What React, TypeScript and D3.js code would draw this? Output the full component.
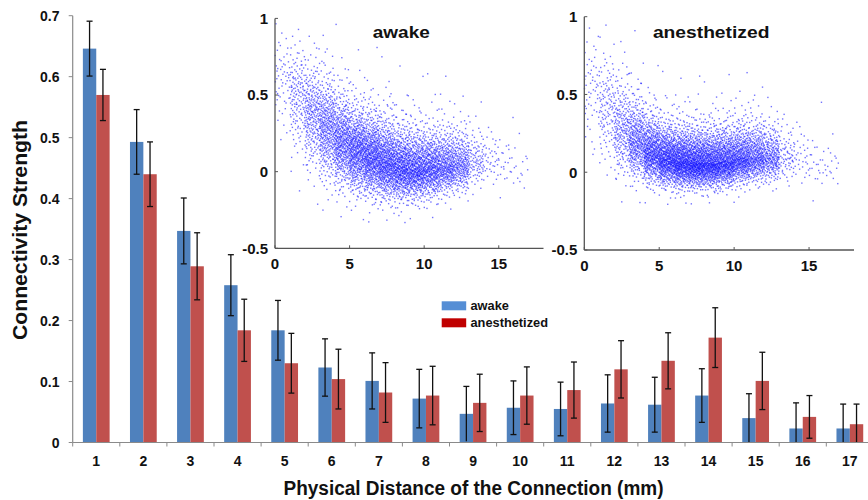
import React from "react";
import * as d3 from "d3";

// ---------- Bar chart data ----------
const categories = ["1","2","3","4","5","6","7","8","9","10","11","12","13","14","15","16","17"];
const awakeMean = [0.646,0.493,0.347,0.258,0.184,0.123,0.101,0.072,0.047,0.057,0.055,0.064,0.062,0.077,0.040,0.023,0.023];
const awakeErr  = [0.045,0.053,0.054,0.050,0.049,0.047,0.046,0.048,0.045,0.044,0.044,0.047,0.045,0.044,0.040,0.042,0.040];
const anesMean  = [0.570,0.440,0.289,0.184,0.130,0.104,0.082,0.077,0.065,0.077,0.086,0.120,0.134,0.172,0.101,0.042,0.030];
const anesErr   = [0.042,0.053,0.055,0.051,0.049,0.049,0.049,0.048,0.047,0.047,0.046,0.047,0.046,0.049,0.047,0.035,0.033];
const yTicks = [0,0.1,0.2,0.3,0.4,0.5,0.6,0.7];
const seriesNames = ["awake","anesthetized"];

// ---------- Inset scatter summaries (per 1 mm distance bin) ----------
const binStart   = [0,1,2,3,4,5,6,7,8,9,10,11,12,13,14,15,16];
const awakeCount = [55,150,260,370,440,500,530,520,490,450,400,330,250,95,38,22,13];
const awakeMed   = [0.62,0.50,0.38,0.29,0.20,0.14,0.10,0.06,0.03,0.02,0.03,0.04,0.05,0.07,0.08,0.06,0.03];
const awakeLo    = [0.17,0.19,0.18,0.17,0.15,0.14,0.13,0.12,0.11,0.10,0.10,0.09,0.09,0.08,0.08,0.09,0.07];
const awakeHi    = [0.13,0.16,0.16,0.16,0.15,0.14,0.14,0.14,0.13,0.13,0.12,0.12,0.11,0.10,0.09,0.09,0.09];
const anesCount  = [55,120,220,350,460,520,560,560,520,480,420,330,240,75,32,22,16];
const anesMed    = [0.55,0.42,0.28,0.20,0.13,0.09,0.07,0.06,0.06,0.07,0.09,0.10,0.10,0.10,0.10,0.05,0.04];
const anesLo     = [0.20,0.18,0.15,0.12,0.10,0.09,0.085,0.08,0.08,0.08,0.08,0.08,0.08,0.08,0.08,0.08,0.06];
const anesHi     = [0.16,0.17,0.16,0.14,0.12,0.11,0.11,0.11,0.11,0.11,0.11,0.11,0.10,0.10,0.10,0.09,0.08];
const insetXTicks = [0,5,10,15];
const insetYTicks = [-0.5,0,0.5,1];

const FONT = "'Liberation Sans', Arial, Helvetica, sans-serif";

function halton(i: number, b: number) {
  let f = 1, r = 0;
  while (i > 0) { f /= b; r += f * (i % b); i = Math.floor(i / b); }
  return r;
}
function invNorm(p: number) {
  const a=[-39.69683028665376,220.9460984245205,-275.9285104469687,138.3577518672690,-30.66479806614716,2.506628277459239];
  const b=[-54.47609879822406,161.5858368580409,-155.6989798598866,66.80131188771972,-13.28068155288572];
  const c=[-0.007784894002430293,-0.3223964580411365,-2.400758277161838,-2.549671200931245,4.374664141464968,2.938163982698783];
  const d=[0.007784695709041462,0.3224671290700398,2.445134137142996,3.754408661907416];
  const pl = 0.02425;
  if (p < pl) { const q=Math.sqrt(-2*Math.log(p)); return (((((c[0]*q+c[1])*q+c[2])*q+c[3])*q+c[4])*q+c[5])/((((d[0]*q+d[1])*q+d[2])*q+d[3])*q+1); }
  if (p > 1-pl) { const q=Math.sqrt(-2*Math.log(1-p)); return -(((((c[0]*q+c[1])*q+c[2])*q+c[3])*q+c[4])*q+c[5])/((((d[0]*q+d[1])*q+d[2])*q+d[3])*q+1); }
  const q=p-0.5, r=q*q;
  return (((((a[0]*r+a[1])*r+a[2])*r+a[3])*r+a[4])*r+a[5])*q/(((((b[0]*r+b[1])*r+b[2])*r+b[3])*r+b[4])*r+1);
}

function buildCloud(count: number[], med: number[], lo: number[], hi: number[], seed: number) {
  const pts: [number, number][] = [];
  binStart.forEach((x0, k) => {
    const off = seed + k * 997;
    for (let i = 0; i < count[k]; i++) {
      const u = Math.min(0.9995, Math.max(0.0005, halton(i + 1 + off, 2)));
      const xf = halton(i + 1 + off, 3);
      const z = invNorm(u);
      const y = z < 0 ? med[k] + lo[k] * z : med[k] + hi[k] * z * (1 + 0.05 * z * z);
      pts.push([x0 + xf, y]);
    }
  });
  return pts;
}

function Inset({ left, right, top, bottom, title, titleLen, pts }: any) {
  const x = d3.scaleLinear().domain([0, 18]).range([left, right]);
  const y = d3.scaleLinear().domain([-0.5, 1]).range([bottom, top]);
  const vis = pts.filter((p: [number, number]) => p[1] >= -0.5 && p[1] <= 1 && p[0] <= 18);
  return (
    <g>
      <g>
        {vis.map((p: [number, number], i: number) => (
          <rect key={i} x={x(p[0]) - 0.7} y={y(p[1]) - 0.7} width={1.4} height={1.4} fill="#0000ff" fillOpacity={0.55} />
        ))}
      </g>
      <line x1={left} x2={left} y1={top} y2={bottom} stroke="#555" strokeWidth={1.3} />
      <line x1={left} x2={right} y1={bottom} y2={bottom} stroke="#555" strokeWidth={1.3} />
      {insetYTicks.map((t) => (
        <g key={t}>
          <line x1={left} x2={left + 3} y1={y(t)} y2={y(t)} stroke="#555" strokeWidth={1} />
          <text x={left - 7} y={y(t)} dy="0.36em" textAnchor="end" fontSize={15} fontWeight="bold" fontFamily={FONT} fill="#111">{t}</text>
        </g>
      ))}
      {insetXTicks.map((t) => (
        <g key={t}>
          <line x1={x(t)} x2={x(t)} y1={bottom} y2={bottom - 3} stroke="#555" strokeWidth={1} />
          <text x={x(t)} y={bottom + 21} textAnchor="middle" fontSize={15} fontWeight="bold" fontFamily={FONT} fill="#111">{t}</text>
        </g>
      ))}
      <text x={(left + right) / 2 - 8} y={38} textAnchor="middle" fontSize={16.5} fontWeight="bold" fontFamily={FONT} fill="#111" textLength={titleLen} lengthAdjust="spacingAndGlyphs">{title}</text>
    </g>
  );
}

export default function App() {
  const x0 = 72.7, bw = 47.1;
  const x = d3.scaleBand().domain(categories).range([x0, x0 + bw * categories.length]).padding(0);
  const y = d3.scaleLinear().domain([0, 0.7]).range([442.5, 15.7]);
  const barW = x.bandwidth() * 0.284;
  const colors = ["#4F81BD", "#C0504D"];
  const legendColors = ["#558ED5", "#C00000"];
  const means = [awakeMean, anesMean];
  const errs = [awakeErr, anesErr];

  const awakePts = buildCloud(awakeCount, awakeMed, awakeLo, awakeHi, 11);
  const anesPts = buildCloud(anesCount, anesMed, anesLo, anesHi, 5003);

  return (
    <svg width={868} height={500} style={{ position: "absolute", left: 0, top: 0, background: "#fff" }}>
      <rect x={0} y={0} width={868} height={500} fill="#fff" />
      {/* bars */}
      {categories.map((c, i) => {
        const cx = (x(c) as number) + x.bandwidth() / 2;
        return (
          <g key={c}>
            {[0, 1].map((s) => {
              const v = means[s][i], e = errs[s][i];
              const bx = cx - barW + s * barW;
              const mid = bx + barW / 2;
              const lo = Math.max(0, v - e);
              return (
                <g key={s}>
                  <rect x={bx} y={y(v)} width={barW} height={y(0) - y(v)} fill={colors[s]} />
                  <line x1={mid} x2={mid} y1={y(v + e)} y2={y(lo)} stroke="#111" strokeWidth={1.3} />
                  <line x1={mid - 3} x2={mid + 3} y1={y(v + e)} y2={y(v + e)} stroke="#111" strokeWidth={1.3} />
                  {v - e > 0.003 && <line x1={mid - 3} x2={mid + 3} y1={y(lo)} y2={y(lo)} stroke="#111" strokeWidth={1.3} />}
                </g>
              );
            })}
          </g>
        );
      })}
      {/* axes */}
      <line x1={x0} x2={x0} y1={y(0.7)} y2={y(0)} stroke="#8a8a8a" strokeWidth={1.2} />
      <line x1={x0} x2={868} y1={y(0)} y2={y(0)} stroke="#8a8a8a" strokeWidth={1.2} />
      {yTicks.map((t) => (
        <g key={t}>
          <line x1={x0 - 4} x2={x0} y1={y(t)} y2={y(t)} stroke="#8a8a8a" strokeWidth={1} />
          <text x={59.5} y={y(t)} dy="0.36em" textAnchor="end" fontSize={14} fontWeight="bold" fontFamily={FONT} fill="#111">{t === 0 ? "0" : t.toFixed(1)}</text>
        </g>
      ))}
      {d3.range(categories.length + 1).map((k) => (
        <line key={k} x1={x0 + k * bw} x2={x0 + k * bw} y1={y(0)} y2={y(0) + 4} stroke="#8a8a8a" strokeWidth={1} />
      ))}
      {categories.map((c) => (
        <text key={c} x={(x(c) as number) + x.bandwidth() / 2} y={465.5} textAnchor="middle" fontSize={14} fontWeight="bold" fontFamily={FONT} fill="#111">{c}</text>
      ))}
      <text transform="translate(26.5,230) rotate(-90)" textAnchor="middle" fontSize={20} fontWeight="bold" fontFamily={FONT} fill="#111" textLength={220} lengthAdjust="spacingAndGlyphs">Connectivity Strength</text>
      <text x={283.5} y={494.5} fontSize={19.5} fontWeight="bold" fontFamily={FONT} fill="#111" textLength={380} lengthAdjust="spacingAndGlyphs">Physical Distance of the Connection (mm)</text>
      {/* legend */}
      {seriesNames.map((n, i) => (
        <g key={n}>
          <rect x={441.7} y={301.3 + i * 17} width={24.5} height={9} fill={legendColors[i]} />
          <text x={470.5} y={310.3 + i * 16.7} fontSize={12.8} fontWeight="bold" fontFamily={FONT} fill="#111">{n}</text>
        </g>
      ))}
      {/* insets */}
      <Inset left={275} right={543.5} top={18.4} bottom={248.3} title="awake" titleLen={57} pts={awakePts} />
      <Inset left={584.3} right={854} top={16.7} bottom={250} title="anesthetized" titleLen={116.5} pts={anesPts} />
    </svg>
  );
}
